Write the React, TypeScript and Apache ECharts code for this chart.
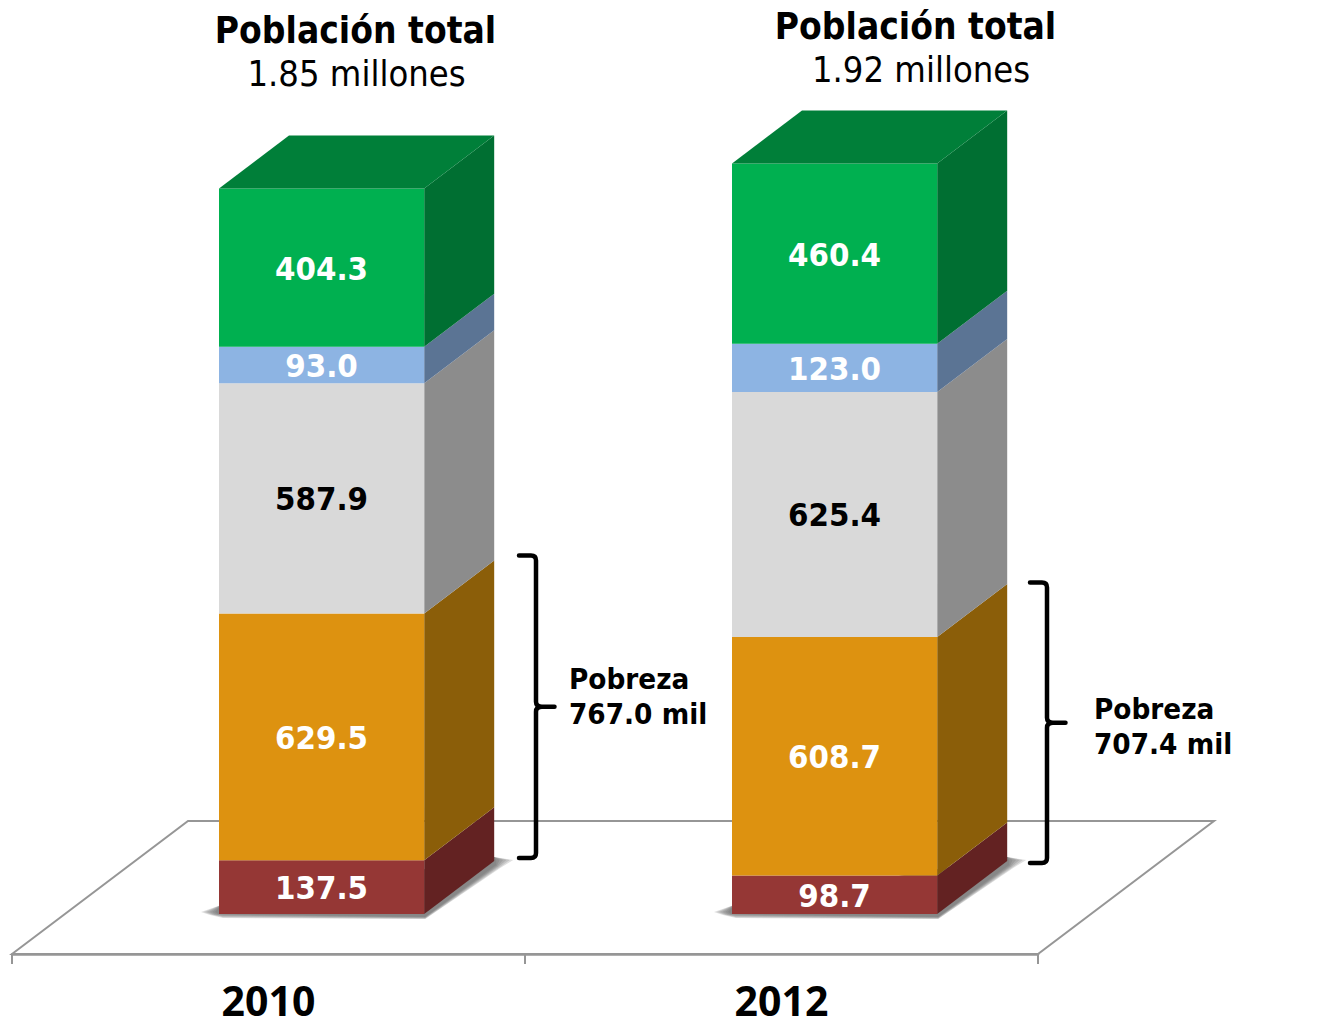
import React, { useEffect, useRef } from "react";
import * as echarts from "echarts";

const years = ["2010", "2012"];
const extremeValues = [137.5, 98.7];
const moderateValues = [629.5, 608.7];
const vulnerableValues = [587.9, 625.4];
const lowValues = [93.0, 123.0];
const topValues = [404.3, 460.4];
const povertyTotals = [767.0, 707.4];
const titleLines = ["Población total", "Población total"];
const populationLines = ["1.85 millones", "1.92 millones"];
const povertyLabels = ["767.0 mil", "707.4 mil"];

const FONT = "'DejaVu Sans', Verdana, sans-serif";
const DX = 70;
const DY = -53;
const SHIFT = 53;
const LEFT = 102.5;
const RIGHT = 102.7;

const layers = [
  { name: "Pobreza extrema", values: extremeValues, front: "#953735", side: "#632222", text: "#ffffff" },
  { name: "Pobreza moderada", values: moderateValues, front: "#DD9210", side: "#8B5E09", text: "#ffffff" },
  { name: "Vulnerables por carencias", values: vulnerableValues, front: "#D9D9D9", side: "#8C8C8C", text: "#000000" },
  { name: "Vulnerables por ingresos", values: lowValues, front: "#8DB4E3", side: "#5B7494", text: "#ffffff" },
  { name: "No pobres", values: topValues, front: "#00B050", side: "#006F32", text: "#ffffff" },
];

const layerSeries = layers.map((layer, li) => ({
  type: "custom",
  name: layer.name,
  z: 4,
  clip: false,
  silent: true,
  encode: { x: 0, y: [1, 2] },
  data: layer.values.map((v, i) => {
    let base = 0;
    for (let k = 0; k < li; k++) base += layers[k].values[i];
    return [i, base, base + v, v];
  }),
  renderItem: (_p: any, api: any) => {
    const idx = api.value(0);
    const [cx, y0] = api.coord([idx, api.value(1)]);
    const y1 = api.coord([idx, api.value(2)])[1];
    const l = cx + SHIFT - LEFT;
    const r = cx + SHIFT + RIGHT;
    const children: any[] = [
      {
        type: "polygon",
        shape: { points: [[r, y0], [r + DX, y0 + DY], [r + DX, y1 + DY], [r, y1]] },
        style: { fill: layer.side },
      },
      {
        type: "rect",
        shape: { x: l, y: y1, width: r - l, height: y0 - y1 },
        style: { fill: layer.front },
      },
      {
        type: "text",
        x: cx + SHIFT,
        y: (y0 + y1) / 2 + 0.5,
        scaleX: 0.92,
        style: {
          text: api.value(3).toFixed(1),
          x: 0,
          y: 0,
          align: "center",
          verticalAlign: "middle",
          fontFamily: FONT,
          fontWeight: "bold",
          fontSize: 32,
          fill: layer.text,
        },
      },
    ];
    if (li === layers.length - 1) {
      children.push({
        type: "polygon",
        shape: { points: [[l, y1], [l + DX, y1 + DY], [r + DX, y1 + DY], [r, y1]] },
        style: { fill: "#007F39" },
      });
    }
    return { type: "group", children };
  },
}));

const floorSeries = {
  type: "custom",
  name: "Plano",
  z: 1,
  clip: false,
  silent: true,
  data: [[0]],
  encode: { x: 0 },
  renderItem: (p: any) => {
    const c = p.coordSys;
    const x0 = c.x;
    const x1 = c.x + c.width;
    const y = c.y + c.height;
    const ddx = 176;
    const ddy = -133;
    return {
      type: "polygon",
      shape: { points: [[x0, y], [x0 + ddx, y + ddy], [x1 + ddx, y + ddy], [x1, y]] },
      style: { fill: "#ffffff", stroke: "#969696", lineWidth: 2 },
    };
  },
};

const shadowSeries = {
  type: "custom",
  name: "Sombra",
  z: 3,
  clip: false,
  silent: true,
  data: years.map((_, i) => [i, 0]),
  encode: { x: 0, y: 1 },
  renderItem: (_p: any, api: any) => {
    const [cx, y] = api.coord([api.value(0), 0]);
    const l = cx + SHIFT - LEFT;
    const r = cx + SHIFT + RIGHT;
    const children: any[] = [];
    for (let k = 0; k < 6; k++) {
      const grow = k / 5;
      children.push({
        type: "polygon",
        shape: {
          points: [
            [l + 2, y - 9],
            [l - 4 - 14 * grow, y - 2],
            [l - 1 - 8 * grow, y + 1 * grow],
            [l + 4, y + 4 * grow],
            [r + 1, y + 3 + 2 * grow],
            [r + DX + 2 + 4 * grow, y + DY + 4 + 3 * grow],
            [r + DX + 2 + 17 * grow, y + DY - 1],
            [r + DX, y + DY - 4],
          ],
        },
        style: { fill: "rgba(95,95,95,0.2)" },
      });
    }
    return { type: "group", children };
  },
};

const bracketSeries = {
  type: "custom",
  name: "Pobreza",
  z: 5,
  clip: false,
  silent: true,
  data: povertyTotals.map((v, i) => [i, v]),
  encode: { x: 0, y: 1 },
  renderItem: (_p: any, api: any) => {
    const idx = api.value(0);
    const [cx, y0] = api.coord([idx, 0]);
    const yt = api.coord([idx, api.value(1)])[1];
    const topLift = idx === 0 ? 58 : 54.5;
    const botLift = idx === 0 ? 56 : 51;
    const nudge = idx === 0 ? 0 : -2;
    const top = yt - topLift;
    const bot = y0 - botLift;
    const mid = (top + bot) / 2;
    const s = cx + SHIFT + 197.5 + nudge;
    const v = s + 17;
    const t = s + 35.5;
    const d = [
      `M${s} ${top}L${v - 5} ${top}Q${v} ${top} ${v} ${top + 5}`,
      `L${v} ${mid - 5}Q${v} ${mid} ${v + 6} ${mid}L${t} ${mid}`,
      `M${v + 6} ${mid}Q${v} ${mid} ${v} ${mid + 5}L${v} ${bot - 5}Q${v} ${bot} ${v - 5} ${bot}L${s} ${bot}`,
    ].join("");
    const tx = idx === 0 ? s + 50 : s + 64;
    const mk = (text: string, y: number) => ({
      type: "text",
      x: tx,
      y,
      scaleX: 0.91,
      style: {
        text,
        x: 0,
        y: 0,
        align: "left",
        verticalAlign: "middle",
        fontFamily: FONT,
        fontWeight: "bold",
        fontSize: 29,
        fill: "#000000",
      },
    });
    const first = idx === 0 ? 679 : 709;
    return {
      type: "group",
      children: [
        {
          type: "path",
          shape: { pathData: d, layout: "none" },
          style: { fill: "none", stroke: "#000000", lineWidth: 4.5, lineCap: "round", lineJoin: "round" },
        },
        mk("Pobreza", first),
        mk(povertyLabels[idx], first + 35),
      ],
    };
  },
};

const titleText = (text: string, x: number, y: number, bold: boolean) => ({
  type: "text",
  x,
  y,
  scaleX: bold ? 0.895 : 0.9,
  z: 10,
  style: {
    text,
    x: 0,
    y: 0,
    align: "center",
    verticalAlign: "middle",
    fontFamily: FONT,
    fontWeight: bold ? "bold" : "normal",
    fontSize: bold ? 37 : 36,
    fill: "#000000",
  },
});

export default function App() {
  const ref = useRef<HTMLDivElement>(null);
  useEffect(() => {
    const chart = echarts.init(ref.current!, undefined, { renderer: "svg" });
    chart.setOption({
      animation: false,
      backgroundColor: "#ffffff",
      tooltip: { show: false },
      grid: { left: 12, top: 100, width: 1026, height: 854, outerBoundsMode: "none" },
      xAxis: {
        type: "category",
        data: years,
        z: 2,
        axisLine: { onZero: false, lineStyle: { color: "#969696", width: 2.5 } },
        axisTick: { show: true, alignWithLabel: false, length: 10, lineStyle: { color: "#969696", width: 2 } },
        axisLabel: {
          margin: 25,
          color: "#000000",
          fontFamily: "'Noto Sans', sans-serif",
          fontWeight: "bold",
          fontSize: 41,
        },
      },
      yAxis: { type: "value", min: -102, max: 2078, show: false, splitLine: { show: false } },
      graphic: [
        titleText(titleLines[0], 355.5, 30, true),
        titleText(populationLines[0], 356.5, 73.5, false),
        titleText(titleLines[1], 915.5, 26, true),
        titleText(populationLines[1], 921, 69.5, false),
      ],
      series: [floorSeries, shadowSeries, ...layerSeries, bracketSeries],
    } as any);
    return () => chart.dispose();
  }, []);
  return (
    <div
      ref={ref}
      style={{ position: "absolute", left: 0, top: 0, width: 1339, height: 1018 }}
    />
  );
}
